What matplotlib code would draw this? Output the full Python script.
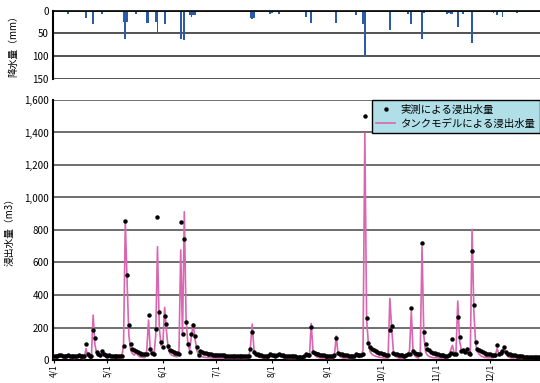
import numpy as np
import matplotlib
matplotlib.use("Agg")
import matplotlib.pyplot as plt
from matplotlib.ticker import FuncFormatter

plt.rcParams['font.family'] = ['Noto Sans CJK JP', 'DejaVu Sans']

# daily values from 4/1 (day 0) to 12/31
obs_apr = [22, 24, 25, 28, 32, 26, 24, 22, 30, 26, 24, 22, 22, 25, 28, 24, 22, 22, 98, 35,
           25, 24, 185, 135, 50, 38, 32, 57, 35, 28]
obs_may = [25, 28, 24, 22, 22, 22, 24, 22, 22, 86, 857, 523, 217, 98, 70, 62, 55, 50, 45, 40,
           38, 35, 40, 275, 68, 45, 38, 189, 882, 293, 113]
obs_jun = [80, 272, 221, 88, 60, 55, 50, 45, 42, 40, 849, 160, 744, 234, 98, 47, 160, 215, 148, 82,
           30, 55, 50, 45, 42, 40, 38, 35, 33, 32]
obs_jul = [31, 30, 29, 28, 28, 27, 27, 26, 26, 25, 25, 24, 24, 24, 23, 23, 22, 22, 22,
           65, 172, 50, 40, 35, 32, 28, 26, 25, 24, 25, 40]
obs_aug = [30, 28, 26, 30, 40, 30, 28, 26, 25, 24, 23, 22, 22, 22, 21, 21, 21, 20, 25, 40,
           30, 28, 205, 50, 45, 40, 36, 33, 30, 28, 27]
obs_sep = [26, 25, 24, 24, 30, 135, 45, 40, 35, 32, 30, 28, 26, 25, 24, 23, 35, 30, 28, 30,
           40, 1500, 256, 102, 80, 70, 60, 55, 50, 45]
obs_oct = [42, 38, 35, 32, 30, 184, 209, 45, 40, 36, 33, 30, 28, 27, 30, 35, 40, 322, 55, 45,
           40, 35, 40, 717, 170, 96, 70, 60, 52, 46, 42]
obs_nov = [38, 35, 32, 30, 28, 27, 26, 30, 45, 129, 40, 35, 262, 144, 55, 60, 50, 70, 45, 40,
           671, 338, 109, 70, 60, 55, 50, 45, 40, 38]
obs_dec = [35, 33, 31, 30, 90, 40, 45, 55, 82, 50, 40, 35, 30, 28, 28, 25, 24, 23, 22, 21,
           20, 20, 19, 19, 18, 18, 18, 17, 17, 17, 16]

mod_apr = [15, 14, 14, 20, 24, 16, 12, 12, 22, 16, 12, 10, 10, 16, 20, 12, 10, 10, 70, 25,
           14, 12, 277, 95, 40, 28, 22, 45, 25, 18]
mod_may = [15, 18, 14, 12, 12, 12, 14, 12, 20, 90, 857, 480, 150, 60, 40, 30, 45, 30, 20, 18,
           15, 15, 60, 246, 60, 30, 25, 150, 697, 200, 90]
mod_jun = [100, 324, 180, 70, 40, 30, 25, 22, 20, 40, 677, 150, 912, 250, 100, 60, 150, 222, 130, 60,
           30, 22, 20, 18, 16, 15, 14, 13, 12, 12]
mod_jul = [12, 12, 11, 11, 11, 10, 10, 10, 10, 10, 10, 10, 10, 10, 10, 10, 10, 10, 12,
           80, 221, 60, 28, 20, 16, 14, 13, 12, 12, 14, 40]
mod_aug = [25, 18, 15, 20, 40, 25, 15, 12, 11, 10, 10, 10, 10, 10, 10, 10, 10, 10, 15, 40,
           25, 20, 225, 60, 30, 20, 15, 13, 12, 11, 11]
mod_sep = [10, 10, 10, 10, 30, 148, 40, 22, 15, 12, 11, 10, 10, 10, 10, 12, 35, 20, 15, 30,
           60, 1396, 250, 100, 50, 35, 28, 24, 20, 18]
mod_oct = [16, 14, 13, 12, 12, 379, 200, 50, 25, 16, 12, 10, 10, 10, 15, 30, 60, 298, 50, 25,
           16, 12, 40, 697, 150, 50, 30, 22, 18, 15, 14]
mod_nov = [14, 13, 12, 12, 11, 11, 15, 30, 60, 90, 40, 50, 363, 120, 60, 45, 40, 50, 30, 25,
           804, 300, 100, 50, 35, 25, 20, 16, 15, 14]
mod_dec = [14, 13, 15, 30, 70, 35, 40, 50, 75, 35, 22, 16, 13, 12, 14, 12, 11, 10, 10, 10,
           10, 10, 10, 10, 10, 10, 10, 10, 10, 10, 10]

rain_apr = [0, 0, 0, 0, 0, 0, 0, 0, 8, 0, 0, 0, 0, 0, 3, 0, 0, 0, 17, 0,
            0, 0, 30, 0, 0, 0, 0, 8, 0, 0]
rain_may = [2, 0, 0, 0, 0, 0, 2, 0, 0, 24, 63, 24, 0, 0, 0, 0, 8, 0, 0, 0,
            0, 0, 27, 27, 0, 0, 0, 25, 49, 0, 0]
rain_jun = [0, 29, 0, 2, 0, 0, 0, 0, 0, 0, 62, 0, 65, 0, 0, 9, 13, 9, 9, 2,
            0, 0, 0, 0, 0, 0, 0, 0, 0, 0]
rain_jul = [0, 0, 0, 0, 0, 0, 0, 2, 0, 0, 0, 0, 0, 0, 0, 0, 0, 0, 0,
            15, 19, 15, 0, 0, 0, 0, 0, 0, 0, 0, 8]
rain_aug = [4, 0, 0, 0, 8, 0, 0, 0, 0, 0, 0, 0, 0, 0, 0, 0, 0, 0, 0, 14,
            0, 0, 26, 0, 2, 2, 0, 0, 0, 1, 1]
rain_sep = [1, 1, 1, 0, 0, 26, 0, 0, 0, 0, 0, 0, 0, 0, 0, 0, 10, 0, 0, 0,
            29, 102, 0, 0, 0, 0, 0, 2, 0, 0]
rain_oct = [0, 2, 0, 0, 0, 43, 0, 0, 0, 0, 0, 0, 0, 0, 0, 7, 0, 30, 0, 0,
            0, 0, 0, 62, 5, 0, 0, 0, 0, 0, 0]
rain_nov = [2, 0, 0, 0, 0, 0, 8, 5, 8, 8, 0, 0, 35, 0, 0, 7, 0, 0, 0, 0,
            70, 0, 2, 0, 0, 0, 0, 0, 0, 0]
rain_dec = [0, 0, 5, 0, 10, 0, 0, 14, 2, 0, 0, 0, 0, 0, 0, 5, 0, 0, 0, 0,
            0, 0, 0, 0, 0, 0, 0, 0, 0, 0, 0]

month_labels = ["4/1", "5/1", "6/1", "7/1", "8/1", "9/1", "10/1", "11/1", "12/1"]
month_days = [0, 30, 61, 91, 122, 153, 183, 214, 244]

obs = np.array(obs_apr + obs_may + obs_jun + obs_jul + obs_aug + obs_sep + obs_oct + obs_nov + obs_dec)
mod = np.array(mod_apr + mod_may + mod_jun + mod_jul + mod_aug + mod_sep + mod_oct + mod_nov + mod_dec)
rain = np.array(rain_apr + rain_may + rain_jun + rain_jul + rain_aug + rain_sep + rain_oct + rain_nov + rain_dec)
days = np.arange(len(obs))

fig = plt.figure(figsize=(5.4, 3.83), dpi=100)
ax1 = fig.add_axes([0.098, 0.794, 0.902, 0.178])
ax2 = fig.add_axes([0.098, 0.060, 0.902, 0.679])

# rainfall
ax1.bar(days, rain, width=1.0, color='#2a5caa')
ax1.set_ylim(150, 0)
ax1.set_yticks([0, 50, 100, 150])
ax1.set_xlim(-0.5, 272)
ax1.set_xticks([])
ax1.grid(True, axis='y', color='#333333', lw=1.2)
ax1.set_axisbelow(True)
for s in ['right', 'bottom']:
    ax1.spines[s].set_visible(False)
ax1.spines['top'].set_linewidth(1.2)
ax1.spines['left'].set_linewidth(1.5)
ax1.tick_params(axis='y', labelsize=7, length=0, pad=3)

# leachate
ax2.plot(days, mod, color='#d966b0', lw=1.2, label='タンクモデルによる浸出水量', zorder=3)
ax2.plot(days, obs, 'o', color='black', ms=2.2, label='実測による浸出水量', zorder=4)
ax2.set_ylim(0, 1600)
ax2.set_yticks(np.arange(0, 1601, 200))
ax2.yaxis.set_major_formatter(FuncFormatter(lambda v, p: f"{int(v):,}"))
ax2.set_xlim(-0.5, 272)
ax2.set_xticks(month_days)
ax2.set_xticklabels(month_labels, rotation=90, fontsize=6)
ax2.grid(True, axis='y', color='#555555', lw=1.2)
ax2.set_axisbelow(True)
ax2.spines['right'].set_visible(False)
ax2.spines['top'].set_visible(False)
ax2.spines['left'].set_linewidth(1.5)
ax2.spines['bottom'].set_linewidth(1.5)
ax2.tick_params(axis='y', labelsize=7, length=0, pad=3)
ax2.tick_params(axis='x', length=2, pad=1)

h, l = ax2.get_legend_handles_labels()
leg = ax2.legend(h[::-1], l[::-1], loc='upper right', bbox_to_anchor=(1.0, 1.0),
                 borderaxespad=0, fontsize=7.5, fancybox=False, framealpha=1,
                 facecolor='#b0dfe8', edgecolor='black', handlelength=1.8,
                 handletextpad=0.5, labelspacing=0.35, borderpad=0.45)
leg.get_frame().set_linewidth(1.0)

fig.text(0.025, 0.885, '降水量（mm）', rotation=90, va='center', ha='center', fontsize=7)
fig.text(0.018, 0.40, '浸出水量（m3）', rotation=90, va='center', ha='center', fontsize=7)

fig.savefig('out.png', dpi=100)
